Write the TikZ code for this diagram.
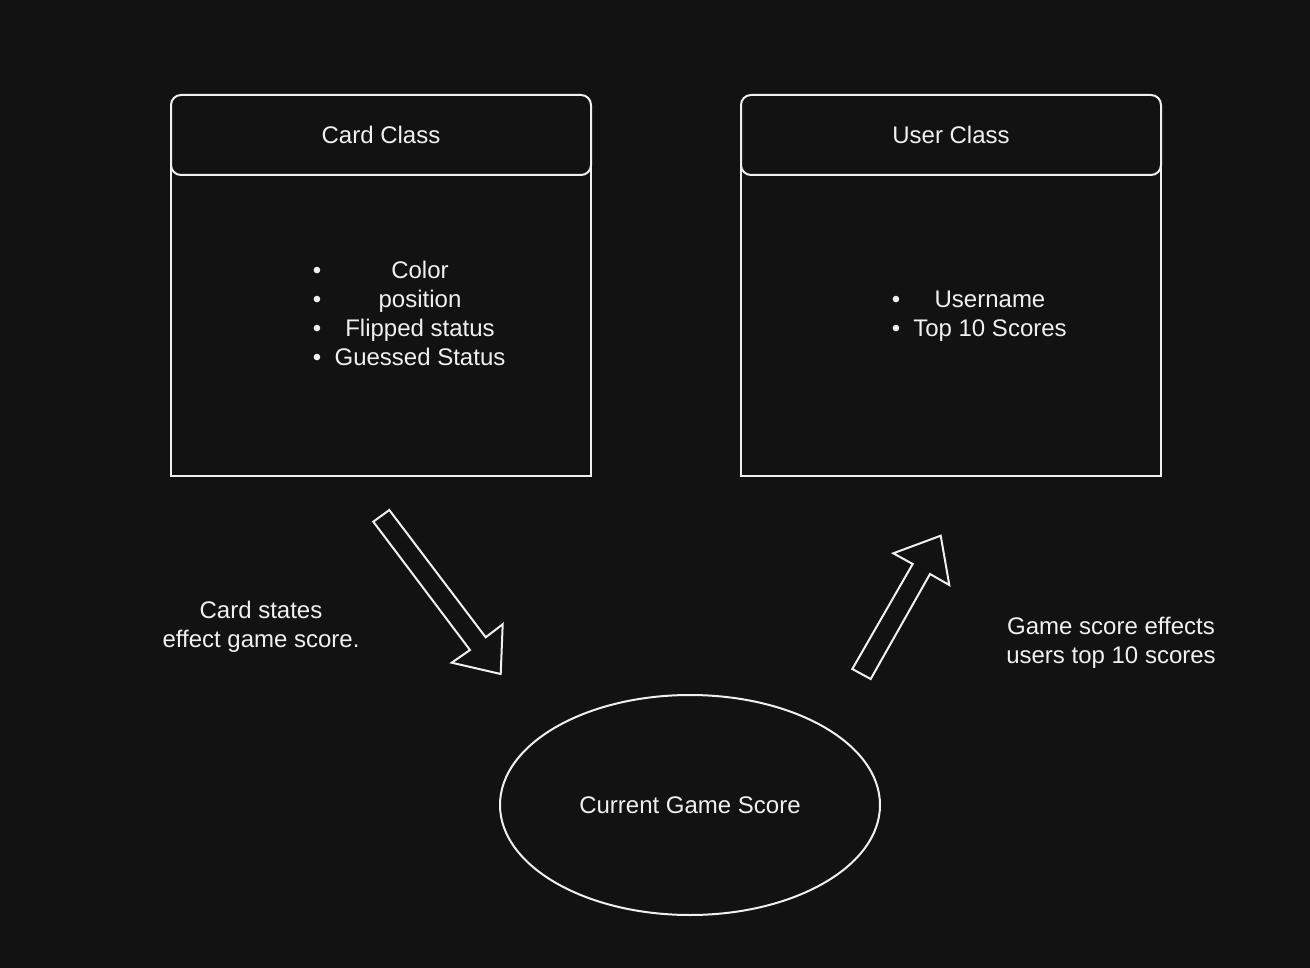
\documentclass[tikz,border=0pt]{standalone}
\usepackage{fontspec}
\setmainfont{Liberation Sans}
\usetikzlibrary{shapes.geometric}
\definecolor{bgdark}{HTML}{121212}
\definecolor{linefg}{HTML}{F0F0F0}
\tikzset{
    txt/.style={text=linefg, font=\fontsize{24}{29}\selectfont, inner sep=0pt},
    headbox/.style={draw=linefg, fill=bgdark, rounded corners=10pt, minimum width=420pt, minimum height=80pt, txt},
    bodybox/.style={draw=linefg, minimum width=420pt, minimum height=310pt},
    scorebox/.style={ellipse, draw=linefg, minimum width=380pt, minimum height=220pt, txt},
    blockarrow/.style={draw=linefg, line join=miter}
}
\begin{document}
\begin{tikzpicture}[x=1pt,y=-1pt,line width=2pt]

% ===== Nền =====
\fill[bgdark] (0,0) rectangle (1310,968);

% ===== Hai lớp =====
\node[bodybox, anchor=north] (cardbody) at (381,165) {};
\node[headbox] (cardhead) at (381,135) {Card Class};
\node[bodybox, anchor=north] (userbody) at (951,165) {};
\node[headbox] (userhead) at (951,135) {User Class};

% ===== Danh sách thuộc tính =====
\foreach \t [count=\i from 0] in {Color,position,Flipped status,Guessed Status} {
    \node[txt, anchor=base] (carditem\i) at (420,279+29*\i) {\t};
    \node[txt, anchor=base] (cardbullet\i) at (317,279+29*\i) {•};
}
\foreach \t [count=\i from 0] in {Username,Top 10 Scores} {
    \node[txt, anchor=base] (useritem\i) at (990,308+29*\i) {\t};
    \node[txt, anchor=base] (userbullet\i) at (896,308+29*\i) {•};
}

% ===== Điểm hiện tại =====
\node[scorebox] (score) at (690,805) {Current Game Score};

% ===== Mũi tên khối =====
\draw[blockarrow] (373.3,521.7) -- (389.3,510) -- (485.7,637.3) -- (502.7,624.3)
    -- (500.7,674) -- (451.7,662.7) -- (470,650) -- cycle;
\draw[blockarrow] (852.3,669) -- (870.7,679) -- (930,574) -- (949.3,585)
    -- (940.7,535.7) -- (893.3,553.3) -- (912.7,564) -- cycle;

% ===== Ghi chú =====
\node[txt, align=center, anchor=base] (cardnote) at (261,647.6) {Card states\\effect game score.};
\node[txt, align=center, anchor=base] (usernote) at (1111,663.6) {Game score effects\\users top 10 scores};

\end{tikzpicture}
\end{document}
